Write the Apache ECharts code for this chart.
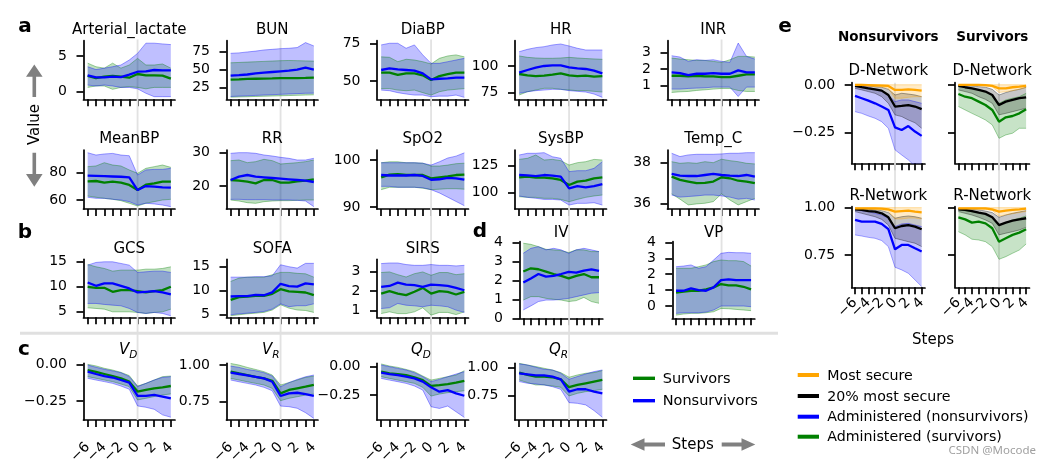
<!DOCTYPE html>
<html><head><meta charset="utf-8">
<script src="https://cdn.jsdelivr.net/npm/echarts@6/dist/echarts.min.js"></script>
<style>html,body{margin:0;padding:0;background:#fff}#c{width:1051px;height:465px}</style>
</head><body><div id="c"></div>
<script>
// ---------- DATA ----------
const steps = [-6,-5,-4,-3,-2,-1,0,1,2,3,4];
// S = survivors (green), N = nonsurvivors (blue); M mean, L lower, U upper
const lacSM=[2.2,1.9,2.1,2.2,2.1,1.96,2.48,2.29,2.29,2.24,1.82];
const lacSU=[4.0,3.5,3.3,4.0,3.3,3.74,4.67,3.74,3.74,3.88,3.3];
const lacSL=[0.6,0.8,0.8,0.33,0.6,0.7,0.6,0.4,0.6,0.6,0.6];
const lacNM=[2.29,2.0,2.0,2.1,2.05,2.38,2.8,2.85,3.04,3.0,3.0];
const lacNU=[3.5,3.1,3.3,3.5,3.74,4.44,5.37,6.8,6.8,6.7,6.6];
const lacNL=[0.93,0.8,0.93,0.8,0.6,0.6,0.4,-0.23,-0.7,-0.7,-0.7];
const lacTicks=[0,5];

const bunSM=[35.7,36,36.7,37,37.3,37.6,38,38,38,38.3,38.7];
const bunSU=[59.5,60,60.5,61,61.5,62,62.5,62.8,62.5,62.2,61.9];
const bunSL=[11,11.3,11.6,12,12.3,12.6,13,13.3,13.6,14,14.3];
const bunNM=[41.4,42,43,44.5,45.5,46.5,47.5,48.5,50,52.8,50];
const bunNU=[72.9,73.5,74.8,76,77.6,78.5,79.5,80,81,88,83.3];
const bunNL=[12,12.5,13,13.5,14,14.5,15,15.5,16,16.5,16.7];
const bunTicks=[25,50,75];

const diaSM=[55.5,55.5,54,55.1,55.1,53.8,50.7,53.3,54.6,55.5,55.5];
const diaSU=[66,65.7,62.8,64.4,63.9,62.8,61.3,65,66.6,67.3,66];
const diaSL=[45,45,44,43.6,44,42.3,40.7,42.9,44,44.5,45];
const diaNM=[57.3,58.4,57.7,57.3,56.9,55.1,51.1,51.5,51.8,52.2,52.2];
const diaNU=[73.9,75,75,71.7,73.9,67.3,61.7,61.7,62.8,63.9,65];
const diaNL=[44,43.6,42.3,41.4,40.7,40.7,39.6,40,40,40.7,39.2];
const diaTicks=[50,75];

const hrSM=[92.5,91.25,90.6,90.9,91.9,93.1,91.25,90.6,90.9,90,90.6];
const hrSU=[109.4,108.1,107.5,107.2,107.2,107.5,108.1,107.5,107,106.6,106.25];
const hrSL=[72.8,75.9,77.5,79.1,79.1,78.1,77.5,76.9,76.9,76.25,75.6];
const hrNM=[93.75,96.25,98.4,100,100.6,100.6,98.75,97.8,97.2,95.6,93.1];
const hrNU=[113.4,115.6,117.2,118.1,119.7,120.6,118.75,116.6,115,115,115];
const hrNL=[74.4,75.9,76.9,77.5,78.1,78.1,76.9,76.25,75.6,73.75,70.6];
const hrTicks=[75,100];

const inrSM=[1.6,1.6,1.56,1.6,1.56,1.56,1.52,1.52,1.6,1.68,1.68];
const inrSU=[2.66,2.6,2.56,2.52,2.52,2.46,2.4,2.56,2.76,2.76,2.72];
const inrSL=[0.6,0.64,0.66,0.72,0.76,0.8,0.84,0.84,0.72,0.66,0.66];
const inrNM=[1.8,1.76,1.64,1.72,1.72,1.76,1.72,1.72,1.92,1.8,1.8];
const inrNU=[2.8,2.72,2.46,2.56,2.52,2.56,2.46,2.4,3.56,2.76,2.6];
const inrNL=[0.8,0.8,0.84,0.86,0.88,0.92,0.92,0.92,0.36,0.92,0.92];
const inrTicks=[1,2,3];

const mbpSM=[73.7,73.9,72.7,73.4,72.7,71,67.3,71.2,72.2,73.4,73.4];
const mbpSU=[84.4,84.9,87.3,85.6,84.9,82,79.5,83.2,84.4,85.6,83.9];
const mbpSL=[62.9,62,61.2,60.5,59.5,57.6,55.6,57.6,58.8,60,60.5];
const mbpNM=[77.8,77.6,77.4,77.2,77,76.6,67.3,70.2,69.8,69.3,69];
const mbpNU=[94.6,92.9,93.7,94.1,92.9,92.4,78.3,82,82.4,82.4,83.2];
const mbpNL=[62,61.2,61.2,60.5,60,58.8,56.3,57.6,57.1,56.3,55.1];
const mbpTicks=[60,80];

const rrSM=[21.8,21.6,21.3,20.8,21.8,21.8,21,21,21.4,21.6,22];
const rrSU=[27.6,27.8,27,27.3,28,27.6,26.6,26.8,27,27.3,27.8];
const rrSL=[15.8,15.5,15,14.8,15.3,15.5,15.6,15.6,15.7,15.8,15.8];
const rrNM=[21.8,22.8,23.3,22.8,22.6,22.4,22.2,22,21.8,21.6,21.2];
const rrNU=[29.8,30,30,29.8,29.3,29,28.6,28.3,27.8,27.8,28.3];
const rrNL=[16,16,15.9,15.9,15.9,15.8,15.8,15.8,15.7,15.5,13.8];
const rrTicks=[20,30];

const spoSM=[96.3,96.9,97,96.8,96.8,96.8,96.1,96.3,96.5,96.8,96.9];
const spoSU=[99.4,99.6,99.6,99.4,99.4,99.3,98.7,98.7,98.9,99.2,99.3];
const spoSL=[93.7,94.2,94.2,94.2,94.2,94,93.7,93.8,93.9,93.9,93.8];
const spoNM=[96.8,96.7,96.7,96.7,96.8,96.6,95.8,95.9,96.2,96.1,95.8];
const spoNU=[99.4,99.4,99.4,99.4,99.4,99.3,98.9,99.6,100.4,100.8,101.5];
const spoNL=[94.4,94.4,94.2,94.2,94.2,94.1,93.7,93,92.1,91.2,90.3];
const spoTicks=[90,100];

const sbpSM=[114,114.7,113.75,113.75,113.1,111.6,106.9,110,110.9,113.1,114];
const sbpSU=[130.9,131.9,135,130.3,130.9,129.7,125.6,127.8,128.75,130.9,130.3];
const sbpSL=[95.9,95.3,95.3,94.4,94.4,93.4,91.25,93.4,95.3,96.6,97.5];
const sbpNM=[116.25,115.9,115.3,116.25,115.6,114.7,103.75,105.9,104.7,105.9,107.8];
const sbpNU=[135,136.6,136.6,137.2,133.4,131.9,119.4,120.3,120.3,122.5,128.75];
const sbpNL=[96.6,95.3,94.4,93.4,93.4,92.8,88.1,89.7,89.7,90.3,88.1];
const sbpTicks=[100,125];

const tmpSM=[37.3,37.14,37.06,36.98,37.0,37.06,37.27,37.22,37.1,37.06,36.98];
const tmpSU=[38.03,37.95,37.98,37.95,38.03,37.98,38.15,38.08,38.03,37.95,37.92];
const tmpSL=[36.46,36.2,35.92,35.97,36.0,36.08,36.46,36.16,35.92,36.08,36.24];
const tmpNM=[37.43,37.35,37.33,37.33,37.38,37.43,37.38,37.35,37.33,37.38,37.3];
const tmpNU=[38.44,38.28,38.36,38.39,38.39,38.39,38.41,38.44,38.44,38.47,38.47];
const tmpNL=[36.4,36.3,36.33,36.36,36.4,36.4,36.36,36.3,36.2,36.24,36.16];
const tmpTicks=[36,38];

const gcsSM=[10,9.8,9.8,9,9.33,9.33,9.13,8.87,9.13,9.33,10];
const gcsSU=[14.47,14,13.67,13.13,13.33,13.33,13.33,13.53,13.53,13.67,14];
const gcsSL=[5.8,5.67,5.53,5,5,5,4.87,4.67,4.87,5,5.53];
const gcsNM=[10.87,10.2,10.67,10.67,10.2,9.67,8.87,9,9.13,8.87,8.47];
const gcsNU=[14.33,14.87,15,15,14.67,14.33,12.87,13,13.13,13.13,12.87];
const gcsNL=[6.67,6.67,6.47,6.33,6.2,5.67,4.87,4.67,4.87,4.67,4.2];
const gcsTicks=[5,10,15];

const sofaSM=[8.04,8.6,8.74,8.88,8.88,9.3,10.28,9.8,9.72,9.58,9.02];
const sofaSU=[11.9,12.6,12.8,12.8,12.8,13.3,13.8,13.8,13.6,13.5,12.8];
const sofaSL=[4.7,4.9,5.1,5.24,5.4,5.9,7.0,6.3,5.9,5.8,5.4];
const sofaNM=[8.74,8.8,8.8,9.1,9.0,9.6,11.4,10.9,10.8,11.5,11.3];
const sofaNU=[12.8,12.8,12.8,12.9,12.9,13.1,15.4,15.0,14.7,15.7,15.7];
const sofaNL=[4.9,5.1,5.24,5.4,5.6,6.1,7.2,6.6,6.8,6.8,7.2];
const sofaTicks=[5,10,15];

const sirsSM=[1.88,2,1.88,1.8,1.97,2.17,1.88,2,1.97,1.83,1.97];
const sirsSU=[2.96,2.99,2.85,2.73,2.9,2.99,2.82,2.96,2.96,2.85,2.9];
const sirsSL=[0.85,0.94,0.85,0.85,0.94,1.15,0.77,0.91,0.91,0.8,0.94];
const sirsNM=[2.22,2.27,2.44,2.34,2.31,2.22,2.34,2.31,2.27,2.17,2.05];
const sirsNU=[3.42,3.45,3.45,3.37,3.33,3.33,3.37,3.33,3.33,3.3,3.33];
const sirsNL=[1.11,1.15,1.37,1.28,1.25,1.2,1.28,1.25,1.2,1.03,0.91];
const sirsTicks=[1,2,3];

const ivSM=[2.46,2.63,2.58,2.46,2.33,2.23,2.1,2.23,2.33,2.16,2.16];
const ivSU=[3.95,3.89,3.77,3.63,3.6,3.56,3.46,3.6,3.6,3.51,3.51];
const ivSL=[0.96,1.14,1.14,1.05,1.0,0.96,0.88,0.93,1.1,0.88,0.79];
const ivNM=[1.88,2.1,2.33,2.19,2.23,2.33,2.44,2.4,2.51,2.58,2.49];
const ivNU=[3.42,3.68,3.77,3.6,3.68,3.6,3.42,3.6,3.68,3.6,3.51];
const ivNL=[0.44,0.65,0.88,0.96,0.96,1.0,1.05,1.14,1.23,1.32,1.35];
const ivTicks=[0,1,2,3,4];

const vpSM=[0.84,0.9,0.96,0.96,1.05,1.17,1.38,1.3,1.3,1.21,1.05];
const vpSU=[2.37,2.37,2.37,2.47,2.58,2.79,2.89,2.85,2.85,2.79,2.51];
const vpSL=[-0.57,-0.5,-0.46,-0.46,-0.42,-0.36,-0.15,-0.17,-0.21,-0.25,-0.29];
const vpNM=[0.96,0.96,1.11,1.0,0.96,1.17,1.63,1.68,1.63,1.63,1.63];
const vpNU=[2.47,2.51,2.58,2.37,2.47,2.89,3.31,3.37,3.35,3.35,3.31];
const vpNL=[-0.46,-0.42,-0.42,-0.42,-0.38,-0.25,0,0,0,0,-0.04];
const vpTicks=[0,1,2,3,4];

const vdSM=[-0.039,-0.052,-0.066,-0.08,-0.095,-0.118,-0.186,-0.175,-0.164,-0.157,-0.148];
const vdSU=[0.0,-0.011,-0.027,-0.039,-0.055,-0.077,-0.148,-0.13,-0.107,-0.084,-0.08];
const vdSL=[-0.084,-0.095,-0.107,-0.118,-0.134,-0.152,-0.243,-0.232,-0.22,-0.209,-0.202];
const vdNM=[-0.05,-0.066,-0.08,-0.09,-0.107,-0.125,-0.216,-0.216,-0.209,-0.22,-0.232];
const vdNU=[-0.005,-0.02,-0.034,-0.045,-0.057,-0.084,-0.152,-0.13,-0.107,-0.089,-0.084];
const vdNL=[-0.095,-0.107,-0.118,-0.13,-0.148,-0.17,-0.284,-0.293,-0.307,-0.345,-0.361];
const vdTicks=[-0.25,0];

const vrSM=[0.955,0.943,0.932,0.92,0.909,0.893,0.807,0.83,0.841,0.852,0.864];
const vrSU=[1.011,1.0,0.984,0.97,0.955,0.932,0.864,0.88,0.898,0.916,0.925];
const vrSL=[0.909,0.898,0.886,0.875,0.864,0.841,0.757,0.773,0.784,0.795,0.802];
const vrNM=[0.948,0.939,0.93,0.92,0.909,0.886,0.789,0.807,0.811,0.802,0.789];
const vrNU=[0.993,0.984,0.97,0.961,0.948,0.925,0.852,0.88,0.902,0.92,0.932];
const vrNL=[0.898,0.886,0.875,0.864,0.848,0.825,0.72,0.716,0.705,0.675,0.636];
const vrTicks=[0.75,1];

const qdSM=[-0.044,-0.059,-0.065,-0.074,-0.094,-0.118,-0.17,-0.162,-0.153,-0.141,-0.124];
const qdSU=[0.024,0.006,-0.006,-0.024,-0.044,-0.082,-0.118,-0.103,-0.088,-0.074,-0.035];
const qdSL=[-0.088,-0.103,-0.118,-0.132,-0.147,-0.182,-0.259,-0.241,-0.229,-0.22,-0.212];
const qdNM=[-0.053,-0.065,-0.074,-0.088,-0.103,-0.132,-0.182,-0.22,-0.206,-0.235,-0.256];
const qdNU=[0.015,0,-0.015,-0.029,-0.053,-0.088,-0.132,-0.112,-0.088,-0.065,-0.044];
const qdNL=[-0.103,-0.118,-0.132,-0.147,-0.17,-0.206,-0.353,-0.368,-0.347,-0.397,-0.447];
const qdTicks=[-0.25,0];

const qrSM=[0.953,0.932,0.918,0.918,0.912,0.894,0.824,0.844,0.859,0.874,0.888];
const qrSU=[1.035,1.02,1.006,0.991,0.976,0.953,0.912,0.932,0.947,0.953,0.971];
const qrSL=[0.888,0.865,0.844,0.844,0.835,0.824,0.747,0.77,0.785,0.794,0.806];
const qrNM=[0.947,0.938,0.929,0.929,0.918,0.894,0.785,0.806,0.806,0.785,0.77];
const qrNU=[1.03,1.02,1.0,0.982,0.976,0.947,0.894,0.918,0.941,0.962,0.976];
const qrNL=[0.874,0.859,0.853,0.844,0.829,0.806,0.688,0.682,0.668,0.618,0.559];
const qrTicks=[0.75,1];

// panel e: O = most secure, K = 20% most secure, B/G = administered
const nsdOM=[0,0,-0.001,-0.002,-0.003,-0.005,-0.026,-0.026,-0.023,-0.026,-0.03];
const nsdOU=[0.003,0.003,0.002,0.002,0.002,0.001,0.001,0.001,0.001,0.001,0.001];
const nsdOL=[-0.004,-0.004,-0.006,-0.008,-0.01,-0.018,-0.07,-0.07,-0.065,-0.062,-0.062];
const nsdKM=[-0.005,-0.012,-0.018,-0.023,-0.03,-0.053,-0.114,-0.111,-0.106,-0.114,-0.128];
const nsdKU=[0,-0.002,-0.005,-0.009,-0.012,-0.023,-0.053,-0.044,-0.048,-0.053,-0.062];
const nsdKL=[-0.018,-0.026,-0.035,-0.044,-0.062,-0.097,-0.158,-0.167,-0.185,-0.2,-0.229];
const nsdBM=[-0.058,-0.07,-0.083,-0.097,-0.114,-0.132,-0.224,-0.238,-0.217,-0.246,-0.269];
const nsdBU=[0,-0.005,-0.012,-0.023,-0.03,-0.053,-0.088,-0.079,-0.079,-0.088,-0.097];
const nsdBL=[-0.141,-0.15,-0.164,-0.176,-0.194,-0.229,-0.343,-0.37,-0.396,-0.43,-0.47];

const sdOM=[0,0,0,0,-0.001,-0.005,-0.018,-0.018,-0.012,-0.009,-0.005];
const sdOU=[0.002,0.002,0.002,0.002,0.002,0.001,0.001,0.001,0.001,0.001,0.001];
const sdOL=[-0.003,-0.003,-0.003,-0.004,-0.006,-0.01,-0.04,-0.035,-0.03,-0.022,-0.015];
const sdKM=[-0.005,-0.012,-0.018,-0.026,-0.035,-0.053,-0.106,-0.088,-0.079,-0.07,-0.065];
const sdKU=[0,-0.002,-0.005,-0.009,-0.012,-0.023,-0.053,-0.04,-0.03,-0.023,-0.012];
const sdKL=[-0.026,-0.035,-0.044,-0.062,-0.076,-0.097,-0.158,-0.15,-0.141,-0.132,-0.123];
const sdGM=[-0.048,-0.062,-0.07,-0.088,-0.106,-0.132,-0.194,-0.171,-0.164,-0.15,-0.128];
const sdGU=[-0.005,-0.012,-0.018,-0.026,-0.035,-0.053,-0.097,-0.079,-0.07,-0.062,-0.044];
const sdGL=[-0.114,-0.132,-0.15,-0.167,-0.185,-0.211,-0.282,-0.264,-0.255,-0.229,-0.229];

const nsrOM=[0.996,0.996,0.996,0.996,0.995,0.991,0.979,0.982,0.984,0.979,0.975];
const nsrOU=[1,1,1,1,1,1,1,1,1,1,1];
const nsrOL=[0.993,0.993,0.992,0.99,0.988,0.982,0.94,0.94,0.945,0.945,0.94];
const nsrKM=[0.991,0.988,0.982,0.979,0.97,0.949,0.891,0.903,0.908,0.9,0.886];
const nsrKU=[0.996,0.995,0.991,0.988,0.984,0.974,0.944,0.952,0.956,0.952,0.944];
const nsrKL=[0.979,0.97,0.961,0.952,0.938,0.908,0.838,0.829,0.82,0.812,0.794];
const nsrBM=[0.935,0.926,0.926,0.926,0.914,0.886,0.78,0.803,0.803,0.785,0.768];
const nsrBU=[0.988,0.984,0.979,0.97,0.961,0.944,0.9,0.914,0.917,0.908,0.9];
const nsrBL=[0.856,0.85,0.843,0.838,0.826,0.794,0.685,0.671,0.653,0.618,0.583];

const srOM=[0.996,0.996,0.996,0.996,0.996,0.991,0.979,0.984,0.988,0.991,0.995];
const srOU=[1,1,1,1,1,1,1,1,1,1,1];
const srOL=[0.994,0.994,0.994,0.993,0.99,0.985,0.955,0.962,0.968,0.974,0.98];
const srKM=[0.991,0.988,0.982,0.974,0.967,0.949,0.908,0.921,0.931,0.938,0.944];
const srKU=[0.996,0.995,0.991,0.988,0.982,0.974,0.949,0.961,0.97,0.977,0.984];
const srKL=[0.979,0.97,0.961,0.949,0.935,0.917,0.856,0.865,0.873,0.882,0.896];
const srGM=[0.949,0.938,0.921,0.926,0.917,0.891,0.82,0.838,0.856,0.868,0.886];
const srGU=[0.991,0.984,0.979,0.974,0.967,0.952,0.908,0.921,0.935,0.944,0.956];
const srGL=[0.873,0.856,0.833,0.829,0.82,0.794,0.727,0.741,0.759,0.776,0.808];
const eDTicks=[-0.25,0];
const eRTicks=[0.75,1];

// ---------- LAYOUT / STYLE ----------
const FONT='DejaVu Sans';
const GREEN='#008000', BLUE='#0000ff', ORANGE='#ffa500', BLACK='#000000';
function rgba(hex,a){const n=parseInt(hex.slice(1),16);return `rgba(${n>>16&255},${n>>8&255},${n&255},${a})`;}
const R_A1={top:40.7,height:58.6}, R_A2={top:150,height:59}, R_B={top:259.3,height:58}, R_D={top:241.7,height:76.6}, R_C={top:363.3,height:56.7};
const COLS=[83.5,226.5,377,515,667.5], W=91.5;
function G(row,left,width){return {left,top:row.top,width:width||W,height:row.height};}
function std(title,grid,min,max,ticks,dec,ty,d,xl){
  return {title,grid,min,max,ticks,dec,titleY:ty,xlabels:!!xl,xmargin:25,ylabels:true,alpha:0.25,
    bands:[[GREEN,d[0],d[1]],[BLUE,d[2],d[3]]],lines:[[GREEN,d[4]],[BLUE,d[5]]]};
}
const panels=[
 std('Arterial_lactate',G(R_A1,COLS[0]),-1.07,7.15,lacTicks,0,29.8,[lacSL,lacSU,lacNL,lacNU,lacSM,lacNM]),
 std('BUN',G(R_A1,COLS[1]),8,90.7,bunTicks,0,29.8,[bunSL,bunSU,bunNL,bunNU,bunSM,bunNM]),
 std('DiaBP',G(R_A1,COLS[2]),37.9,76.7,diaTicks,0,29.8,[diaSL,diaSU,diaNL,diaNU,diaSM,diaNM]),
 std('HR',G(R_A1,COLS[3]),68.8,123.7,hrTicks,0,29.8,[hrSL,hrSU,hrNL,hrNU,hrSM,hrNM]),
 std('INR',G(R_A1,COLS[4]),0.19,3.7,inrTicks,0,29.8,[inrSL,inrSU,inrNL,inrNU,inrSM,inrNM]),
 std('MeanBP',G(R_A2,COLS[0]),53.4,96.6,mbpTicks,0,139.5,[mbpSL,mbpSU,mbpNL,mbpNU,mbpSM,mbpNM]),
 std('RR',G(R_A2,COLS[1]),13.1,30.8,rrTicks,0,139.5,[rrSL,rrSU,rrNL,rrNU,rrSM,rrNM]),
 std('SpO2',G(R_A2,COLS[2]),89.6,102.1,spoTicks,0,139.5,[spoSL,spoSU,spoNL,spoNU,spoSM,spoNM]),
 std('SysBP',G(R_A2,COLS[3]),84.4,139.7,sbpTicks,0,139.5,[sbpSL,sbpSU,sbpNL,sbpNU,sbpSM,sbpNM]),
 std('Temp_C',G(R_A2,COLS[4]),35.72,38.6,tmpTicks,0,139.5,[tmpSL,tmpSU,tmpNL,tmpNU,tmpSM,tmpNM]),
 std('GCS',G(R_B,COLS[0]),3.9,15.5,gcsTicks,0,248.8,[gcsSL,gcsSU,gcsNL,gcsNU,gcsSM,gcsNM]),
 std('SOFA',G(R_B,COLS[1]),4.37,16.55,sofaTicks,0,248.8,[sofaSL,sofaSU,sofaNL,sofaNU,sofaSM,sofaNM]),
 std('SIRS',G(R_B,COLS[2]),0.66,3.64,sirsTicks,0,248.8,[sirsSL,sirsSU,sirsNL,sirsNU,sirsSM,sirsNM]),
 std('IV',G(R_D,519.5,83.3),0,4.03,ivTicks,0,233.2,[ivSL,ivSU,ivNL,ivNU,ivSM,ivNM]),
 std('VP',G(R_D,672.3,82.5),-0.77,4.04,vpTicks,0,233.2,[vpSL,vpSU,vpNL,vpNU,vpSM,vpNM]),
 std(['V','D'],G(R_C,COLS[0]),-0.38,0.007,vdTicks,2,350.5,[vdSL,vdSU,vdNL,vdNU,vdSM,vdNM],true),
 std(['V','R'],G(R_C,COLS[1]),0.625,1.012,vrTicks,2,350.5,[vrSL,vrSU,vrNL,vrNU,vrSM,vrNM],true),
 std(['Q','D'],G(R_C,COLS[2]),-0.47,0.03,qdTicks,2,350.5,[qdSL,qdSU,qdNL,qdNU,qdSM,qdNM],true),
 std(['Q','R'],G(R_C,COLS[3]),0.535,1.035,qrTicks,2,350.5,[qrSL,qrSU,qrNL,qrNU,qrSM,qrNM],true),
];
function epanel(title,grid,min,max,ticks,ty,xl,yl,adm,o,k,a){
  return {title,grid,min,max,ticks,dec:2,titleY:ty,xlabels:xl,xmargin:13,ylabels:yl,alpha:0.22,
    bands:[[adm,a[2],a[1]],[BLACK,k[2],k[1]],[ORANGE,o[2],o[1]]],
    lines:[[adm,a[0]],[BLACK,k[0]],[ORANGE,o[0]]]};
}
const E_D={top:82.7,height:80.6}, E_R={top:206.7,height:80.6};
panels.push(
 epanel('D-Network',G(E_D,851.7,73.3),-0.414,0.012,eDTicks,71.5,false,true,BLUE,[nsdOM,nsdOU,nsdOL],[nsdKM,nsdKU,nsdKL],[nsdBM,nsdBU,nsdBL]),
 epanel('D-Network',G(E_D,955,74.5),-0.414,0.012,eDTicks,71.5,false,false,GREEN,[sdOM,sdOU,sdOL],[sdKM,sdKU,sdKL],[sdGM,sdGU,sdGL]),
 epanel('R-Network',G(E_R,851.7,73.3),0.579,1.005,eRTicks,196.2,true,true,BLUE,[nsrOM,nsrOU,nsrOL],[nsrKM,nsrKU,nsrKL],[nsrBM,nsrBU,nsrBL]),
 epanel('R-Network',G(E_R,955,74.5),0.579,1.005,eRTicks,196.2,true,false,GREEN,[srOM,srOU,srOL],[srKM,srKU,srKL],[srGM,srGU,srGL])
);

const stepLabels=steps.map(String);
function fmtTick(v,d){const s=(Math.abs(v)<1e-9?0:v).toFixed(d);return s.replace('-','\u2212');}

const grid=[],xAxis=[],yAxis=[],series=[];
panels.forEach((p,i)=>{
  grid.push(Object.assign({outerBoundsMode:'none',containLabel:false},p.grid));
  xAxis.push({type:'category',gridIndex:i,data:stepLabels,boundaryGap:true,
    axisLine:{show:true,onZero:false,lineStyle:{color:'#000',width:1.7}},
    axisTick:{show:true,alignWithLabel:true,interval:0,length:7,lineStyle:{color:'#000',width:1.7}},
    axisLabel:{show:p.xlabels,interval:0,rotate:45,margin:p.xmargin,fontSize:14,fontFamily:FONT,color:'#000',
      showMinLabel:true,showMaxLabel:true,hideOverlap:false,
      formatter:(v,idx)=>(steps[idx]%2===0?v.replace('-','\u2212'):'')},
    splitLine:{show:false}});
  yAxis.push({type:'value',gridIndex:i,min:p.min,max:p.max,
    axisLine:{show:true,onZero:false,lineStyle:{color:'#000',width:1.7}},
    axisTick:{show:true,length:7,customValues:p.ticks,lineStyle:{color:'#000',width:1.7}},
    axisLabel:{show:p.ylabels,customValues:p.ticks,margin:16.5,fontSize:14,fontFamily:FONT,color:'#000',
      formatter:v=>fmtTick(v,p.dec)},
    splitLine:{show:false}});
  p.bands.forEach(([col,lo,hi],k)=>{
    const st='p'+i+'b'+k;
    const base={type:'line',xAxisIndex:i,yAxisIndex:i,stack:st,stackStrategy:'all',symbol:'none',
      silent:true,animation:false,z:2,lineStyle:{width:1,color:rgba(col,Math.min(1,p.alpha+0.12))}};
    series.push(Object.assign({},base,{data:lo}));
    series.push(Object.assign({},base,{data:hi.map((v,j)=>+(v-lo[j]).toFixed(6)),
      areaStyle:{color:rgba(col,p.alpha),opacity:1}}));
  });
  p.lines.forEach(([col,m])=>{
    series.push({type:'line',xAxisIndex:i,yAxisIndex:i,data:m,symbol:'none',silent:true,animation:false,z:3,
      lineStyle:{width:2.3,color:col}});
  });
});

const chart=echarts.init(document.getElementById('c'),null,{renderer:'canvas'});
chart.setOption({animation:false,backgroundColor:'#fff',grid,xAxis,yAxis,series});

// ---------- ANNOTATIONS ----------
const els=[];
function txt(x,y,s,font,o){return Object.assign({type:'text',x,y,z:10,silent:true,
  style:Object.assign({text:s,font,fill:'#000',textAlign:'center',textVerticalAlign:'middle',align:'center',verticalAlign:'middle'},(o&&o.style)||{})},
  o&&o.rotation!==undefined?{rotation:o.rotation}:{});}
const zeroIdx=steps.indexOf(0);
function vline(pi,y1,y2){const x=chart.convertToPixel({xAxisIndex:pi},zeroIdx);
  els.push({type:'line',z:1,silent:true,shape:{x1:x,y1,x2:x,y2},style:{stroke:'#e2e2e2',lineWidth:1.8}});}
[0,1,2,3].forEach(c=>vline(c,39.5,420));
vline(4,39.5,318.3);
vline(19,82.7,287.3); vline(20,82.7,287.3);
els.push({type:'line',z:1,silent:true,shape:{x1:20,y1:333.3,x2:778,y2:333.3},style:{stroke:'#e0e0e0',lineWidth:3}});
panels.forEach(p=>{
  const cx=p.grid.left+p.grid.width/2;
  if(Array.isArray(p.title)){
    els.push(txt(cx,p.titleY,p.title[0],'italic 15px '+FONT,{style:{textAlign:'right',align:'right'}}));
    els.push(txt(cx,p.titleY+4.5,p.title[1],'italic 10.5px '+FONT,{style:{textAlign:'left',align:'left'}}));
  } else els.push(txt(cx,p.titleY,p.title,'15px '+FONT));
});
els.push(txt(888.3,37.8,'Nonsurvivors','bold 13.5px '+FONT));
els.push(txt(992.3,37.8,'Survivors','bold 13.5px '+FONT));
[['a',25,27],['b',25,232.3],['c',24,350],['d',480,232],['e',785,27]].forEach(([s,x,y])=>els.push(txt(x,y,s,'bold 20px '+FONT)));
els.push(txt(35.5,124.5,'Value','15px '+FONT,{rotation:Math.PI/2}));
const GREY='#808080';
els.push({type:'polygon',z:10,silent:true,shape:{points:[[34.3,64.5],[42.6,76.8],[36.1,76.8],[36.1,97],[32.5,97],[32.5,76.8],[26,76.8]]},style:{fill:GREY}});
els.push({type:'polygon',z:10,silent:true,shape:{points:[[32.5,152.7],[36.1,152.7],[36.1,174],[42.6,174],[34.3,186.7],[26,174],[32.5,174]]},style:{fill:GREY}});
els.push(txt(692.8,444.8,'Steps','15px '+FONT));
els.push({type:'polygon',z:10,silent:true,shape:{points:[[630.7,444.5],[644.5,438.3],[644.5,442.5],[665,442.5],[665,446.5],[644.5,446.5],[644.5,450.7]]},style:{fill:GREY}});
els.push({type:'polygon',z:10,silent:true,shape:{points:[[721.7,442.5],[741.5,442.5],[741.5,438.3],[755.3,444.5],[741.5,450.7],[741.5,446.5],[721.7,446.5]]},style:{fill:GREY}});
els.push(txt(933,340.5,'Steps','15px '+FONT));
[[GREEN,'Survivors',378.3,379.5],[BLUE,'Nonsurvivors',400.7,401.6]].forEach(([c,s,ly,ty])=>{
  els.push({type:'line',z:10,silent:true,shape:{x1:633,y1:ly,x2:655,y2:ly},style:{stroke:c,lineWidth:3.4}});
  els.push(txt(662.7,ty,s,'14.5px '+FONT,{style:{textAlign:'left',align:'left'}}));
});
[[ORANGE,'Most secure',375,376.2],[BLACK,'20% most secure',396,397],[BLUE,'Administered (nonsurvivors)',416.7,417],[GREEN,'Administered (survivors)',436.7,437]].forEach(([c,s,ly,ty])=>{
  els.push({type:'line',z:10,silent:true,shape:{x1:797.7,y1:ly,x2:819,y2:ly},style:{stroke:c,lineWidth:4}});
  els.push(txt(827.3,ty,s,'14.2px '+FONT,{style:{textAlign:'left',align:'left'}}));
});
els.push(txt(1036,450.5,'CSDN @Mocode','11.5px "Noto Sans"',{style:{textAlign:'right',align:'right',fill:'#a0a0a0'}}));

chart.setOption({graphic:{elements:els}});
</script></body></html>
